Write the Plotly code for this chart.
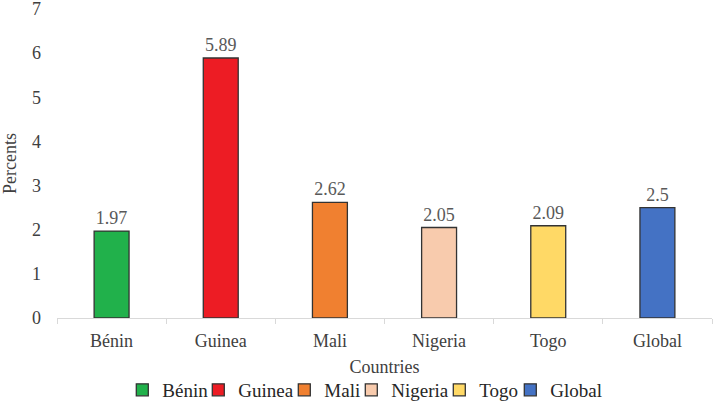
import plotly.graph_objects as go

countries = ["Bénin", "Guinea", "Mali", "Nigeria", "Togo", "Global"]
values = [1.97, 5.89, 2.62, 2.05, 2.09, 2.5]
labels = ["1.97", "5.89", "2.62", "2.05", "2.09", "2.5"]
colors = ["#21b14b", "#ed1c24", "#f08030", "#f8cbad", "#ffd966", "#4472c4"]

FONT = "Times New Roman"
PLOT_L, PLOT_W = 57, 655
# legend symbol centres (px) for each country's own legend
legend_px = [142.3, 218.3, 304.3, 371.3, 459.3, 530.3]

fig = go.Figure()
for i, (c, v, lab, col) in enumerate(zip(countries, values, labels, colors)):
    lname = "legend" if i == 0 else f"legend{i + 1}"
    fig.add_trace(go.Bar(
        x=[c], y=[v], name=c, legend=lname,
        marker=dict(color=col, line=dict(color="#333333", width=1.3)),
        text=[lab], textposition="outside", cliponaxis=False,
        textfont=dict(family=FONT, size=18, color="#595959"),
        width=0.32,
    ))
    fig.update_layout({lname: dict(
        orientation="h", x=(legend_px[i] - 20 - PLOT_L) / PLOT_W, xanchor="left",
        y=-0.233, yanchor="middle", bgcolor="rgba(0,0,0,0)",
        font=dict(family=FONT, size=19, color="#262626"), itemwidth=30,
    )})

fig.update_layout(
    width=716, height=403,
    margin=dict(l=57, r=4, t=9, b=85, autoexpand=False),
    barmode="overlay",
    plot_bgcolor="white", paper_bgcolor="white",
    font=dict(family=FONT, size=18, color="#262626"),
    showlegend=True,
)
fig.update_xaxes(
    categoryorder="array", categoryarray=countries, automargin=False,
    showline=True, linecolor="#d9d9d9", linewidth=1,
    ticks="outside", tickson="boundaries", ticklen=5, tickcolor="#d9d9d9",
    tickfont=dict(family=FONT, size=18, color="#404040"),
    title=dict(text="Countries", font=dict(family=FONT, size=18, color="#404040"), standoff=10),
    showgrid=False, ticklabelstandoff=6,
)
fig.update_yaxes(
    range=[0, 7], dtick=1, showgrid=False, showline=False, zeroline=False, automargin=True,
    tickfont=dict(family=FONT, size=18, color="#404040"),
    title=dict(text="Percents", font=dict(family=FONT, size=18, color="#404040"), standoff=14),
    ticks="", ticklabelstandoff=15, ticklabeloverflow="allow",
)

fig.write_html("out.html", config={"displayModeBar": False},
               post_script="document.body.style.margin='0';")
